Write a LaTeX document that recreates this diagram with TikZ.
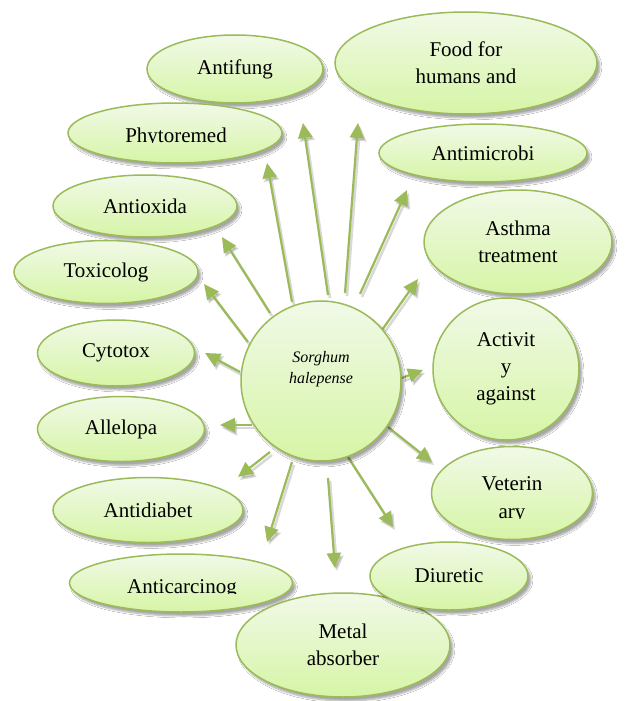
\documentclass[tikz,border=0pt]{standalone}
\usepackage{fontspec}
\setmainfont{Liberation Serif}
\usetikzlibrary{arrows.meta,shadows.blur,shapes.geometric}
\definecolor{bord}{RGB}{155,187,89}
\definecolor{ftop}{RGB}{241,249,232}
\definecolor{fbot}{RGB}{214,245,166}
\tikzset{
  bub/.style={ellipse, draw=bord, line width=1.5pt, top color=ftop, bottom color=fbot,
    inner sep=0pt, align=center, font=\fontsize{21}{27}\selectfont,
    blur shadow={shadow xshift=3pt, shadow yshift=-4pt, shadow blur steps=6, shadow opacity=35}},
  hub/.style={circle, draw=bord, line width=1.5pt, top color=ftop, bottom color=fbot,
    inner sep=0pt, minimum size=160pt,
    blur shadow={shadow xshift=3pt, shadow yshift=-4pt, shadow blur steps=6, shadow opacity=35}},
  arr/.style={draw=bord, line width=2.2pt, -{Triangle[length=15pt,width=14pt]}},
  arrsh/.style={draw=black, opacity=0.15, line width=2.6pt, -{Triangle[length=15pt,width=15pt]}},
  lbl/.style={font=\fontsize{21}{27}\selectfont, inner sep=0pt, anchor=base},
}
\begin{document}
\begin{tikzpicture}[x=1pt,y=-1pt]
\fill[white] (0,0) rectangle (625,701);
\useasboundingbox (0,0) rectangle (625,701);

% arrow end points
\coordinate (s1) at (292,302); \coordinate (t1) at (267,163);
\coordinate (s2) at (328,295); \coordinate (t2) at (303,123);
\coordinate (s3) at (345,293); \coordinate (t3) at (358,123);
\coordinate (s4) at (360,294); \coordinate (t4) at (407,190);
\coordinate (s5) at (270,313); \coordinate (t5) at (222,237);
\coordinate (s6) at (248,342); \coordinate (t6) at (204,284);
\coordinate (s7) at (382,330); \coordinate (t7) at (418,279);
\coordinate (s8) at (240,372); \coordinate (t8) at (205,353);
\coordinate (s9) at (402,378); \coordinate (t9) at (423,370);
\coordinate (s10) at (252,425); \coordinate (t10) at (220,425);
\coordinate (s11) at (388,427); \coordinate (t11) at (432,462);
\coordinate (s12) at (270,452); \coordinate (t12) at (238,477);
\coordinate (s13) at (292,462); \coordinate (t13) at (267,542);
\coordinate (s14) at (328,478); \coordinate (t14) at (335,568);
\coordinate (s15) at (348,457); \coordinate (t15) at (393,527);

\foreach \i in {1,...,15}{
  \draw[arrsh] ([shift={(2,3)}]s\i) -- ([shift={(2,3)}]t\i);
}
\foreach \i in {1,...,15}{
  \draw[arr] (s\i) -- (t\i);
}

% ellipses
\node[bub, minimum width=176pt, minimum height=68pt] (antifung) at (235,69) {Antifung};
\node[bub, minimum width=262pt, minimum height=102pt] (food) at (466,63) {Food for\\humans and};
\node[bub, minimum width=214pt, minimum height=60pt] (phyto) at (175,133) {};
\begin{scope}
  \clip (100,110) rectangle (260,142.5);
  \node[lbl] (phytot) at (176,142) {Phytoremed};
\end{scope}
\node[bub, minimum width=208pt, minimum height=58pt] (antimicro) at (483,153) {Antimicrobi};
\node[bub, minimum width=184pt, minimum height=62pt] (antiox) at (145,206) {Antioxida};
\node[bub, minimum width=188pt, minimum height=104pt] (asthma) at (518,242) {Asthma\\treatment};
\node[bub, minimum width=184pt, minimum height=63pt] (toxic) at (106,272) {Toxicolog};
\node[bub, minimum width=146pt, minimum height=142pt] (activity) at (506,369) {Activit\\y\\against};
\node[bub, minimum width=157pt, minimum height=66pt] (cytotox) at (116,353) {Cytotox};
\node[bub, minimum width=167pt, minimum height=65pt] (allelo) at (121,429) {Allelopa};
\node[bub, minimum width=161pt, minimum height=93pt] (veter) at (512,493) {};
\node[lbl] (vetert1) at (512,490) {Veterin};
\begin{scope}
  \clip (460,500) rectangle (570,518.5);
  \node[lbl] (vetert2) at (512,518) {ary};
\end{scope}
\node[bub, minimum width=190pt, minimum height=65pt] (antidiab) at (148,510) {Antidiabet};
\node[bub, minimum width=223pt, minimum height=58pt] (anticarc) at (181,583) {};
\begin{scope}
  \clip (110,565) rectangle (260,593.5);
  \node[lbl] (anticarct) at (182,593) {Anticarcinog};
\end{scope}
\node[bub, minimum width=214pt, minimum height=104pt] (metal) at (343,645) {Metal\\absorber};
\node[bub, minimum width=158pt, minimum height=68pt] (diuretic) at (449,576) {Diuretic};

% central circle
\node[hub] (sh) at (321,381) {};
\node[font=\fontsize{16}{21}\selectfont\itshape, align=center, inner sep=0pt] (sht) at (321,369) {Sorghum\\halepense};
\end{tikzpicture}
\end{document}
